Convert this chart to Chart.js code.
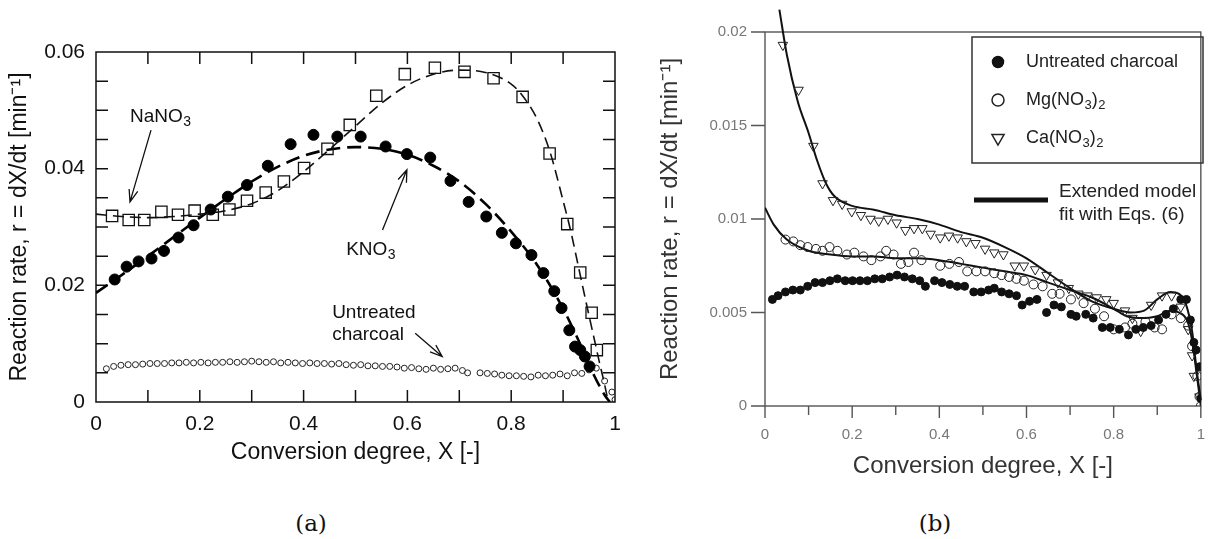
<!DOCTYPE html>
<html>
<head>
<meta charset="utf-8">
<script src="https://cdn.jsdelivr.net/npm/chart.js@4.4.1/dist/chart.umd.min.js"></script>
<style>
  body { margin: 0; background: #fff; width: 1225px; height: 539px; position: relative; overflow: hidden; }
  canvas { position: absolute; top: 0; }
  #chartA { left: 0; }
  #chartB { left: 620px; }
  .panel-label { position: absolute; top: 512px; line-height: 1; font-family: "DejaVu Serif", serif; font-size: 23px; color: #111; transform: translateX(-50%); }
</style>
</head>
<body>
<canvas id="chartA" width="640" height="480"></canvas>
<canvas id="chartB" width="605" height="490"></canvas>
<div class="panel-label" style="left:311px">(a)</div>
<div class="panel-label" style="left:935px">(b)</div>
<script>
// ---- panel (a) data: conversion degree X and rate r ----
const naX = [0.031, 0.063, 0.093, 0.126, 0.158, 0.190, 0.225, 0.257, 0.291, 0.327, 0.362, 0.401, 0.446, 0.489, 0.540, 0.595, 0.653, 0.710, 0.766, 0.822, 0.874, 0.908, 0.933, 0.955, 0.965];
const naR = [0.0319, 0.0312, 0.0312, 0.0326, 0.0321, 0.0328, 0.0321, 0.0330, 0.0345, 0.0359, 0.0378, 0.0401, 0.0434, 0.0475, 0.0525, 0.0562, 0.0573, 0.0566, 0.0555, 0.0523, 0.0426, 0.0305, 0.0222, 0.0153, 0.0089];
const naFitX = [0, 0.05, 0.1, 0.15, 0.2, 0.25, 0.3, 0.35, 0.4, 0.45, 0.5, 0.55, 0.6, 0.65, 0.7, 0.75, 0.8, 0.82, 0.85, 0.875, 0.9, 0.915, 0.93, 0.945, 0.96, 0.97, 0.98, 0.987];
const naFitR = [0.0322, 0.0318, 0.0316, 0.0318, 0.0322, 0.0328, 0.0340, 0.0362, 0.0395, 0.0433, 0.0473, 0.0512, 0.0543, 0.0562, 0.0569, 0.0565, 0.0545, 0.0527, 0.0485, 0.0428, 0.0345, 0.0292, 0.0230, 0.0168, 0.0108, 0.0068, 0.0030, 0];

const kX = [0.036, 0.059, 0.082, 0.107, 0.131, 0.159, 0.188, 0.221, 0.254, 0.291, 0.331, 0.375, 0.419, 0.465, 0.510, 0.558, 0.599, 0.644, 0.683, 0.718, 0.752, 0.782, 0.809, 0.839, 0.862, 0.883, 0.897, 0.912, 0.923, 0.933, 0.942, 0.951];
const kR = [0.0210, 0.0232, 0.0241, 0.0246, 0.0259, 0.0282, 0.0303, 0.0330, 0.0352, 0.0372, 0.0405, 0.0442, 0.0458, 0.0455, 0.0455, 0.0438, 0.0425, 0.0419, 0.0379, 0.0343, 0.0318, 0.0290, 0.0272, 0.0252, 0.0221, 0.0190, 0.0161, 0.0123, 0.0095, 0.0089, 0.0078, 0.0061];
const kFitX = [0, 0.05, 0.1, 0.15, 0.2, 0.25, 0.3, 0.35, 0.4, 0.45, 0.5, 0.55, 0.6, 0.65, 0.7, 0.75, 0.8, 0.85, 0.9, 0.93, 0.96, 0.98, 0.99];
const kFitR = [0.0187, 0.0218, 0.0250, 0.0283, 0.0316, 0.0348, 0.0378, 0.0403, 0.0422, 0.0433, 0.0437, 0.0434, 0.0424, 0.0405, 0.0378, 0.0340, 0.0292, 0.0235, 0.0160, 0.0105, 0.0045, 0.0012, 0];

const uaX = [0.020, 0.034, 0.048, 0.062, 0.076, 0.090, 0.104, 0.118, 0.132, 0.146, 0.160, 0.174, 0.188, 0.202, 0.216, 0.230, 0.244, 0.258, 0.272, 0.286, 0.300, 0.314, 0.328, 0.342, 0.356, 0.370, 0.384, 0.398, 0.412, 0.426, 0.440, 0.454, 0.468, 0.482, 0.496, 0.510, 0.524, 0.538, 0.552, 0.566, 0.580, 0.594, 0.608, 0.622, 0.636, 0.650, 0.664, 0.678, 0.692, 0.706, 0.716,
  0.740, 0.754, 0.768, 0.782, 0.796, 0.810, 0.824, 0.838, 0.852, 0.866, 0.880, 0.894, 0.908, 0.922, 0.936, 0.950, 0.964, 0.980, 0.994, 1.0];
const uaR = [0.0057, 0.0061, 0.0063, 0.0064, 0.0064, 0.0065, 0.0066, 0.0066, 0.0066, 0.0067, 0.0067, 0.0068, 0.0067, 0.0068, 0.0067, 0.0068, 0.0068, 0.0069, 0.0068, 0.0069, 0.0070, 0.0069, 0.0068, 0.0069, 0.0067, 0.0068, 0.0067, 0.0066, 0.0067, 0.0066, 0.0066, 0.0065, 0.0066, 0.0064, 0.0063, 0.0064, 0.0062, 0.0062, 0.0061, 0.0061, 0.0060, 0.0058, 0.0059, 0.0057, 0.0056, 0.0058, 0.0056, 0.0057, 0.0058, 0.0054, 0.0050,
  0.0050, 0.0049, 0.0048, 0.0046, 0.0045, 0.0045, 0.0044, 0.0043, 0.0046, 0.0045, 0.0046, 0.0048, 0.0045, 0.0050, 0.0049, 0.0055, 0.0058, 0.0036, 0.0017, 0.0004];

// ---- panel (b) data ----
const unX = [0.017, 0.030, 0.047, 0.064, 0.081, 0.098, 0.115, 0.132, 0.149, 0.166, 0.184, 0.201, 0.218, 0.235, 0.252, 0.269, 0.286, 0.303, 0.320, 0.338, 0.355, 0.368, 0.389, 0.406, 0.424, 0.441, 0.458, 0.479, 0.496, 0.513, 0.526, 0.543, 0.560, 0.577, 0.590, 0.607, 0.624, 0.646, 0.663, 0.680, 0.702, 0.714, 0.736, 0.753, 0.774, 0.792, 0.813, 0.834, 0.851, 0.868, 0.886, 0.903, 0.920, 0.937, 0.954, 0.967, 0.976, 0.984, 0.989, 0.997, 1.0];
const unR = [0.0057, 0.0059, 0.0061, 0.0062, 0.0062, 0.0064, 0.0066, 0.0066, 0.0067, 0.0068, 0.0067, 0.0067, 0.0067, 0.0067, 0.0068, 0.0068, 0.0069, 0.0070, 0.0069, 0.0068, 0.0067, 0.0064, 0.0067, 0.0066, 0.0065, 0.0064, 0.0064, 0.0061, 0.0061, 0.0062, 0.0063, 0.0061, 0.0060, 0.0059, 0.0054, 0.0056, 0.0057, 0.0050, 0.0054, 0.0053, 0.0049, 0.0048, 0.0049, 0.0047, 0.0042, 0.0042, 0.0041, 0.0038, 0.0041, 0.0042, 0.0043, 0.0046, 0.0049, 0.0052, 0.0057, 0.0057, 0.0046, 0.0034, 0.0030, 0.0021, 0.0004];

const mgX = [0.047, 0.065, 0.081, 0.098, 0.117, 0.132, 0.148, 0.166, 0.188, 0.205, 0.226, 0.244, 0.265, 0.278, 0.295, 0.312, 0.329, 0.342, 0.359, 0.402, 0.423, 0.445, 0.464, 0.485, 0.505, 0.526, 0.543, 0.560, 0.577, 0.594, 0.616, 0.637, 0.659, 0.676, 0.702, 0.731, 0.757, 0.778, 0.800, 0.826, 0.843, 0.873, 0.894, 0.911, 0.933, 0.954, 0.971, 0.980, 0.992, 0.997, 1.0];
const mgR = [0.0089, 0.0088, 0.0086, 0.0085, 0.0084, 0.0083, 0.0085, 0.0083, 0.0081, 0.0082, 0.0080, 0.0078, 0.0080, 0.0083, 0.0081, 0.0076, 0.0077, 0.0082, 0.0078, 0.0075, 0.0076, 0.0077, 0.0072, 0.0072, 0.0072, 0.0071, 0.0070, 0.0069, 0.0068, 0.0067, 0.0065, 0.0064, 0.0060, 0.0060, 0.0057, 0.0055, 0.0052, 0.0048, 0.0041, 0.0042, 0.0044, 0.0045, 0.0042, 0.0041, 0.0049, 0.0047, 0.0043, 0.0032, 0.0016, 0.0005, 0.0000];
const mgFitX = [0, 0.02, 0.05, 0.1, 0.15, 0.2, 0.25, 0.3, 0.35, 0.4, 0.45, 0.5, 0.55, 0.6, 0.65, 0.7, 0.75, 0.8, 0.83, 0.86, 0.9, 0.93, 0.95, 0.97, 0.98, 0.99, 1.0];
const mgFitR = [0.0106, 0.0097, 0.0089, 0.0083, 0.0081, 0.0080, 0.0080, 0.0079, 0.0079, 0.0078, 0.0076, 0.0074, 0.0072, 0.0070, 0.0066, 0.0062, 0.0058, 0.0052, 0.0048, 0.0047, 0.0048, 0.0051, 0.0050, 0.0045, 0.0035, 0.0018, 0.0000];

const caX = [0.041, 0.077, 0.111, 0.132, 0.156, 0.177, 0.199, 0.220, 0.242, 0.261, 0.282, 0.302, 0.322, 0.342, 0.361, 0.380, 0.402, 0.422, 0.442, 0.462, 0.483, 0.505, 0.526, 0.547, 0.573, 0.594, 0.620, 0.646, 0.672, 0.697, 0.719, 0.740, 0.761, 0.783, 0.800, 0.826, 0.843, 0.862, 0.886, 0.911, 0.933, 0.954, 0.971, 0.980, 0.984, 0.997];
const caR = [0.0193, 0.0169, 0.0139, 0.0119, 0.0110, 0.0108, 0.0104, 0.0102, 0.0100, 0.0099, 0.0100, 0.0098, 0.0094, 0.0095, 0.0095, 0.0092, 0.0090, 0.0091, 0.0090, 0.0088, 0.0087, 0.0084, 0.0082, 0.0081, 0.0075, 0.0075, 0.0073, 0.0070, 0.0066, 0.0063, 0.0060, 0.0059, 0.0058, 0.0057, 0.0055, 0.0051, 0.0047, 0.0040, 0.0054, 0.0059, 0.0059, 0.0053, 0.0041, 0.0027, 0.0016, 0.0005];
const caFitX = [0.033, 0.05, 0.075, 0.1, 0.12, 0.14, 0.16, 0.2, 0.25, 0.3, 0.35, 0.4, 0.45, 0.5, 0.55, 0.6, 0.65, 0.7, 0.75, 0.8, 0.84, 0.87, 0.9, 0.93, 0.95, 0.965, 0.98, 0.99, 1.0];
const caFitR = [0.0212, 0.0188, 0.0163, 0.0146, 0.0131, 0.0119, 0.0112, 0.0107, 0.0105, 0.0102, 0.0100, 0.0097, 0.0093, 0.0090, 0.0085, 0.0079, 0.0071, 0.0063, 0.0056, 0.0052, 0.0050, 0.0051, 0.0057, 0.0061, 0.0060, 0.0055, 0.0040, 0.0020, 0.0003];

const FONT = "'Liberation Sans', Arial, sans-serif";
Chart.defaults.font.family = FONT;

const pts = (xs, ys) => xs.map((x, i) => ({ x: x, y: ys[i] }));

// frame and tick marks, drawn from the scales' own ticks
const frameTicks = {
  id: "frameTicks",
  beforeDatasetsDraw(chart, args, o) {
    const { ctx, chartArea: a, scales: { x, y } } = chart;
    ctx.save();
    ctx.strokeStyle = o.color;
    ctx.lineWidth = o.width;
    ctx.strokeRect(a.left, a.top, a.right - a.left, a.bottom - a.top);
    ctx.beginPath();
    x.ticks.forEach(t => {
      const px = x.getPixelForValue(t.value);
      const major = Math.round(t.value * 10) % 2 === 0;
      if (o.inward) {
        if (px <= a.left + 1 || px >= a.right - 1) return;
        ctx.moveTo(px, a.bottom); ctx.lineTo(px, a.bottom - o.len);
        ctx.moveTo(px, a.top); ctx.lineTo(px, a.top + o.len);
      } else {
        ctx.moveTo(px, a.bottom); ctx.lineTo(px, a.bottom + (major ? o.len : o.minorLen));
      }
    });
    y.ticks.forEach(t => {
      const py = y.getPixelForValue(t.value);
      if (o.inward) {
        if (py <= a.top + 1 || py >= a.bottom - 1) return;
        ctx.moveTo(a.left, py); ctx.lineTo(a.left + o.len, py);
        ctx.moveTo(a.right, py); ctx.lineTo(a.right - o.len, py);
      } else {
        ctx.moveTo(a.left, py); ctx.lineTo(a.left - o.yLen, py);
      }
    });
    ctx.stroke();
    ctx.restore();
  }
};

function drawRich(ctx, parts, x, y, size) {
  parts.forEach(p => {
    const sub = p[1];
    ctx.font = (sub ? Math.round(size * 0.72) : size) + "px " + FONT;
    ctx.fillText(p[0], x, sub ? y + size * 0.28 : y);
    x += ctx.measureText(p[0]).width + (sub ? 0 : 0.5);
  });
}

function arrow(ctx, x1, y1, x2, y2, head) {
  const ang = Math.atan2(y2 - y1, x2 - x1);
  ctx.beginPath();
  ctx.moveTo(x1, y1); ctx.lineTo(x2, y2);
  ctx.moveTo(x2 - head * Math.cos(ang - 0.35), y2 - head * Math.sin(ang - 0.35));
  ctx.lineTo(x2, y2);
  ctx.lineTo(x2 - head * Math.cos(ang + 0.35), y2 - head * Math.sin(ang + 0.35));
  ctx.stroke();
}

// labels and arrows of panel (a), placed in data units
const notesA = [
  { parts: [["NaNO", 0], ["3", 1]], at: [0.0655, 0.0489] },
  { parts: [["KNO", 0], ["3", 1]], at: [0.482, 0.0261] },
  { parts: [["Untreated", 0]], at: [0.455, 0.0153] },
  { parts: [["charcoal", 0]], at: [0.455, 0.0115] }
];
const arrowsA = [
  { from: [0.106, 0.0466], to: [0.0655, 0.0343] },
  { from: [0.552, 0.0295], to: [0.599, 0.0398] },
  { from: [0.615, 0.0118], to: [0.667, 0.0078] }
];

const notesPlugin = {
  id: "notesA",
  afterDatasetsDraw(chart) {
    const { ctx, scales: { x, y } } = chart;
    ctx.save();
    ctx.fillStyle = "#111";
    ctx.strokeStyle = "#111";
    ctx.lineWidth = 1.3;
    ctx.textBaseline = "middle";
    notesA.forEach(n => drawRich(ctx, n.parts, x.getPixelForValue(n.at[0]), y.getPixelForValue(n.at[1]), 19));
    arrowsA.forEach(a => arrow(ctx,
      x.getPixelForValue(a.from[0]), y.getPixelForValue(a.from[1]),
      x.getPixelForValue(a.to[0]), y.getPixelForValue(a.to[1]), 13));
    ctx.restore();
  }
};

new Chart(document.getElementById("chartA"), {
  type: "scatter",
  data: {
    datasets: [
      { label: "NaNO3", data: pts(naX, naR), pointStyle: "rect", pointRadius: 8, borderWidth: 1.3,
        borderColor: "#111", backgroundColor: "rgba(0,0,0,0)", showLine: false },
      { label: "NaNO3 fit", data: pts(naFitX, naFitR), showLine: true, pointRadius: 0, borderColor: "#111",
        borderWidth: 1.6, borderDash: [11, 6], cubicInterpolationMode: "monotone", fill: false },
      { label: "KNO3", data: pts(kX, kR), pointStyle: "circle", pointRadius: 5.5, borderWidth: 1,
        borderColor: "#000", backgroundColor: "#000", showLine: false },
      { label: "KNO3 fit", data: pts(kFitX, kFitR), showLine: true, pointRadius: 0, borderColor: "#000",
        borderWidth: 2.6, borderDash: [14, 7], cubicInterpolationMode: "monotone", fill: false },
      { label: "Untreated charcoal", data: pts(uaX, uaR), pointStyle: "circle", pointRadius: 3, borderWidth: 1,
        borderColor: "#222", backgroundColor: "rgba(0,0,0,0)", showLine: false }
    ]
  },
  options: {
    responsive: false,
    animation: false,
    layout: { padding: { top: 52, right: 25, left: 0, bottom: 0 } },
    plugins: {
      legend: { display: false },
      tooltip: { enabled: false },
      frameTicks: { color: "#111", width: 1.5, inward: true, len: 12 }
    },
    scales: {
      x: {
        type: "linear", min: 0, max: 1,
        grid: { display: false, drawTicks: false }, border: { display: false },
        ticks: { stepSize: 0.1, autoSkip: false, maxRotation: 0, padding: 10, color: "#111", font: { size: 21 },
          callback: v => { const k = Math.round(v * 10); return k % 2 === 0 ? String(k / 10) : ""; } },
        title: { display: true, text: "Conversion degree, X [-]", color: "#111", font: { size: 23 }, padding: { top: 0, bottom: 14 } },
        afterFit: s => { s.height = 78; }
      },
      y: {
        type: "linear", min: 0, max: 0.06,
        grid: { display: false, drawTicks: false }, border: { display: false },
        ticks: { stepSize: 0.005, autoSkip: false, padding: 11, color: "#111", font: { size: 21 },
          callback: v => { const k = Math.round(v * 1000); return k % 20 === 0 ? (k === 0 ? "0" : (k / 1000).toFixed(2)) : ""; } },
        title: { display: true, text: "Reaction rate, r = dX/dt [min⁻¹]", color: "#111", font: { size: 23 }, padding: { top: 6, bottom: 0 } },
        afterFit: s => { s.width = 96; }
      }
    }
  },
  plugins: [frameTicks, notesPlugin]
});

// legend of panel (b), drawn with the datasets' own point styles
const legendPlugin = {
  id: "legendB",
  afterDraw(chart) {
    const { ctx, chartArea: a } = chart;
    const ds = chart.data.datasets;
    const left = a.left + 207, top = a.top + 5;
    ctx.save();
    ctx.strokeStyle = "#333";
    ctx.lineWidth = 1.5;
    ctx.strokeRect(left, top, 231, 126);
    const rows = [
      { d: ds[0], parts: [["Untreated charcoal", 0]] },
      { d: ds[1], parts: [["Mg(NO", 0], ["3", 1], [")", 0], ["2", 1]] },
      { d: ds[2], parts: [["Ca(NO", 0], ["3", 1], [")", 0], ["2", 1]] }
    ];
    ctx.textBaseline = "middle";
    rows.forEach((r, i) => {
      const yy = top + 25 + i * 38;
      ctx.fillStyle = r.d.backgroundColor;
      ctx.strokeStyle = r.d.borderColor;
      Chart.helpers.drawPoint(ctx, {
        pointStyle: r.d.pointStyle, radius: r.d.pointRadius + 1.5,
        rotation: r.d.rotation || 0, borderWidth: 1.3
      }, left + 26, yy);
      ctx.fillStyle = "#222";
      drawRich(ctx, r.parts, left + 54, yy, 18);
    });
    ctx.strokeStyle = "#111";
    ctx.lineWidth = 5;
    ctx.beginPath();
    ctx.moveTo(left + 2, top + 163);
    ctx.lineTo(left + 76, top + 163);
    ctx.stroke();
    ctx.fillStyle = "#222";
    drawRich(ctx, [["Extended model", 0]], left + 87, top + 155, 19);
    drawRich(ctx, [["fit with Eqs. (6)", 0]], left + 87, top + 178, 19);
    ctx.restore();
  }
};

new Chart(document.getElementById("chartB"), {
  type: "scatter",
  data: {
    datasets: [
      { label: "Untreated charcoal", data: pts(unX, unR), pointStyle: "circle", pointRadius: 4, borderWidth: 1,
        borderColor: "#111", backgroundColor: "#111", showLine: false },
      { label: "Mg(NO3)2", data: pts(mgX, mgR), pointStyle: "circle", pointRadius: 4.5, borderWidth: 1,
        borderColor: "#222", backgroundColor: "rgba(0,0,0,0)", showLine: false },
      { label: "Ca(NO3)2", data: pts(caX, caR), pointStyle: "triangle", rotation: 180, pointRadius: 5.5, borderWidth: 1,
        borderColor: "#222", backgroundColor: "rgba(0,0,0,0)", showLine: false },
      { label: "Mg fit", data: pts(mgFitX, mgFitR), showLine: true, pointRadius: 0, borderColor: "#111",
        borderWidth: 2, cubicInterpolationMode: "monotone", fill: false },
      { label: "Ca fit", data: pts(caFitX, caFitR), showLine: true, pointRadius: 0, borderColor: "#111",
        borderWidth: 2, cubicInterpolationMode: "monotone", fill: false, clip: false }
    ]
  },
  options: {
    responsive: false,
    animation: false,
    layout: { padding: { top: 32, right: 9, left: 0, bottom: 0 } },
    plugins: {
      legend: { display: false },
      tooltip: { enabled: false },
      frameTicks: { color: "#555", width: 1.4, inward: false, len: 12, minorLen: 9, yLen: 14 }
    },
    scales: {
      x: {
        type: "linear", min: 0, max: 1,
        grid: { display: false, drawTicks: false }, border: { display: false },
        ticks: { stepSize: 0.1, autoSkip: false, maxRotation: 0, padding: 20, color: "#777", font: { size: 15 },
          callback: v => { const k = Math.round(v * 10); return k % 2 === 0 ? String(k / 10) : ""; } },
        title: { display: true, text: "Conversion degree, X [-]", color: "#333", font: { size: 24 }, padding: { top: 0, bottom: 9 } },
        afterFit: s => { s.height = 84; }
      },
      y: {
        type: "linear", min: 0, max: 0.02,
        grid: { display: false, drawTicks: false }, border: { display: false },
        ticks: { stepSize: 0.005, autoSkip: false, padding: 18, color: "#777", font: { size: 15 },
          callback: v => String(Math.round(v * 1000) / 1000) },
        title: { display: true, text: "Reaction rate, r = dX/dt [min⁻¹]", color: "#333", font: { size: 24 }, padding: { top: 36, bottom: 0 } },
        afterFit: s => { s.width = 145; }
      }
    }
  },
  plugins: [frameTicks, legendPlugin]
});
</script>
</body>
</html>
